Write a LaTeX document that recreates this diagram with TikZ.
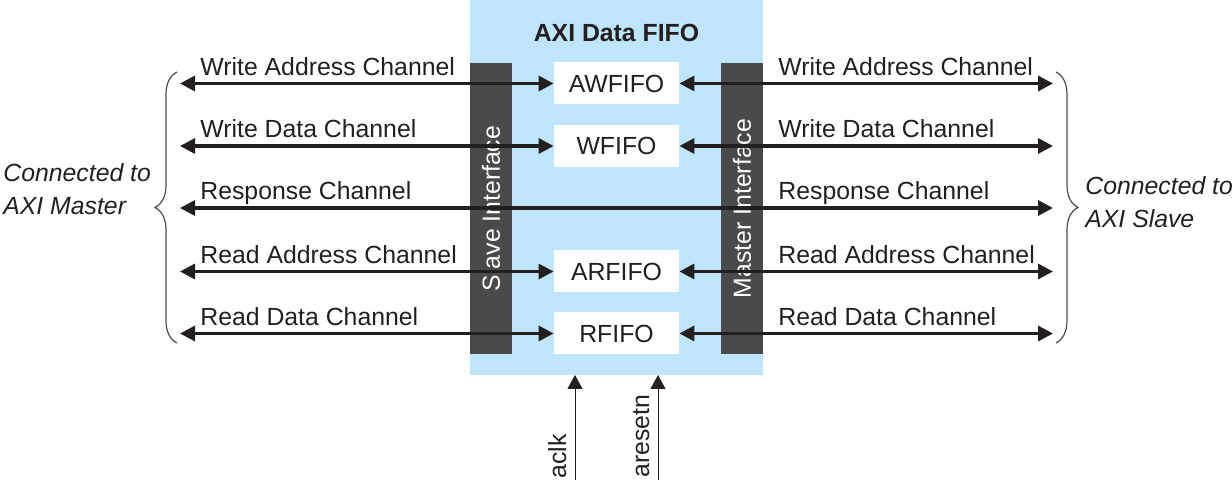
\documentclass[tikz,border=0pt]{standalone}
\usepackage{fontspec}
\setmainfont{Liberation Sans}
\usetikzlibrary{arrows.meta,decorations.pathreplacing}
\definecolor{fifoblue}{HTML}{BEE5F9}
\definecolor{bargray}{HTML}{4A4A4A}
\definecolor{ink}{HTML}{231F20}

\begin{document}
\begin{tikzpicture}[x=0.5pt,y=-0.5pt,font=\fontsize{12.4}{16.5}\selectfont,
  chan/.style={draw=ink,line width=1.6pt,{Triangle[length=7.5pt,width=7.5pt]}-{Triangle[length=7.5pt,width=7.5pt]}},
  sig/.style={draw=ink,line width=0.5pt,-{Triangle[length=7pt,width=7.5pt]}},
  fifo/.style={fill=white,text=ink,minimum width=62.5pt,minimum height=21pt,inner sep=0pt},
  bar/.style={fill=bargray,text=white,rotate=90,minimum width=145.5pt,minimum height=21pt,inner sep=0pt},
  lab/.style={text=ink,anchor=base west,inner sep=0pt},
  side/.style={text=ink,anchor=base west,inner sep=0pt,align=left,font=\fontsize{12.4}{16.5}\selectfont\itshape},
  curly/.style={draw=ink!80,line width=0.6pt,decorate,decoration={brace,amplitude=11pt}}]
\useasboundingbox (0,0) rectangle (1232,480);

\fill[fifoblue] (470,0) rectangle (763,375);
\node[text=ink,anchor=base,font=\fontsize{12.4}{16.5}\selectfont\bfseries] (T) at (616.5,42) {AXI Data FIFO};

% interfaces
\node[bar] (SI) at (491,208.5) {Slave Interface};
\node[bar] (MI) at (742,208.5) {Master Interface};

% channel ends and labels
\foreach \i/\y/\lab in {1/83.5/Write Address Channel,2/146/Write Data Channel,3/208/Response Channel,4/271.5/Read Address Channel,5/333.5/Read Data Channel}
{
\coordinate (L\i) at (180,\y);
\coordinate (R\i) at (1053,\y);
\node[lab] (LT\i) at (200,\y-8) {\lab};
\node[lab] (RT\i) at (778,\y-8) {\lab};
}

\node[fifo] (AW) at (616.5,83.5) {AWFIFO};
\node[fifo] (W) at (616.5,146) {WFIFO};
\node[fifo] (AR) at (616.5,271.5) {ARFIFO};
\node[fifo] (RD) at (616.5,333.5) {RFIFO};

\draw[chan] (L1) -- (AW.west);
\draw[chan] (AW.east) -- (R1);
\draw[chan] (L2) -- (W.west);
\draw[chan] (W.east) -- (R2);
\draw[chan] (L3) -- (R3);
\draw[chan] (L4) -- (AR.west);
\draw[chan] (AR.east) -- (R4);
\draw[chan] (L5) -- (RD.west);
\draw[chan] (RD.east) -- (R5);

% braces
\coordinate (BL0) at (177,343);
\coordinate (BL1) at (177,72);
\coordinate (BR0) at (1056,72);
\coordinate (BR1) at (1056,343);
\draw[curly] (BL0) -- (BL1);
\draw[curly] (BR0) -- (BR1);
\node[side] (CM) at (3,215) {Connected to\\AXI Master};
\node[side] (CS) at (1085,228) {Connected to\\AXI Slave};

% clock and reset
\coordinate (CK0) at (575,480);
\coordinate (CK1) at (575,375);
\coordinate (RS0) at (658,480);
\coordinate (RS1) at (658,375);
\draw[sig] (CK0) -- (CK1);
\draw[sig] (RS0) -- (RS1);
\node[lab,rotate=90] (CKL) at (566,479) {aclk};
\node[lab,rotate=90] (RSL) at (649,478) {aresetn};

\end{tikzpicture}
\end{document}
